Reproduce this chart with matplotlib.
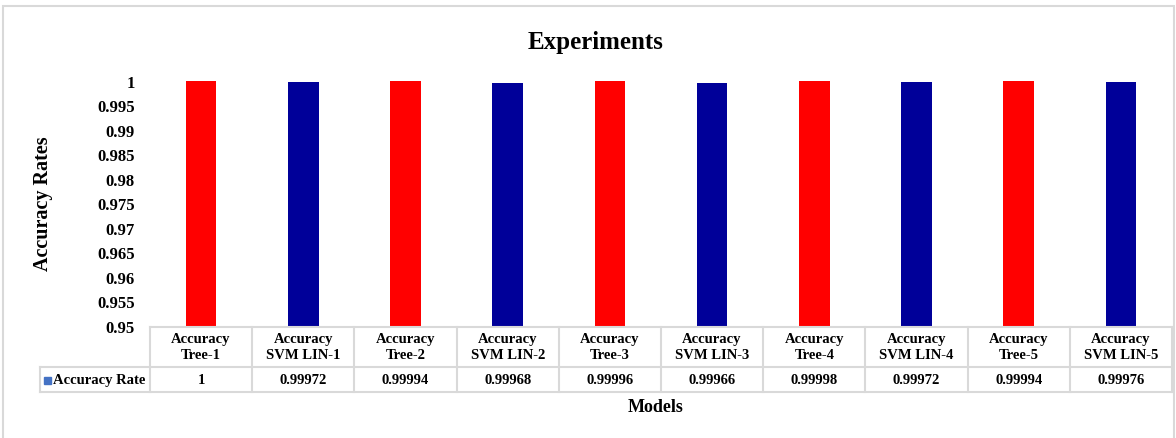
import numpy as np
import matplotlib.pyplot as plt
from matplotlib.patches import Rectangle
from matplotlib.lines import Line2D

models = ["Tree-1", "SVM LIN-1", "Tree-2", "SVM LIN-2", "Tree-3",
          "SVM LIN-3", "Tree-4", "SVM LIN-4", "Tree-5", "SVM LIN-5"]
accuracy = [1, 0.99972, 0.99994, 0.99968, 0.99996,
            0.99966, 0.99998, 0.99972, 0.99994, 0.99976]
value_text = ["1", "0.99972", "0.99994", "0.99968", "0.99996",
              "0.99966", "0.99998", "0.99972", "0.99994", "0.99976"]
bar_colors = ["#FF0000", "#000099"] * 5

plt.rcParams["font.family"] = ["Liberation Serif", "DejaVu Serif"]
plt.rcParams["font.weight"] = "bold"

W, H = 1176, 439
fig = plt.figure(figsize=(W / 100, H / 100), dpi=100)

def fx(x):
    return x / W

def fy(y):
    return 1 - y / H

# outer chart frame
fig.patches.append(Rectangle((fx(3), fy(446)), fx(1171), 446 / H - 7 / H,
                             transform=fig.transFigure, fill=False,
                             edgecolor="#D9D9D9", linewidth=1.5))

left, right, top, bottom = 150, 1172, 82, 327
ax = fig.add_axes([fx(left), fy(bottom), (right - left) / W, (bottom - top) / H])
x = np.arange(len(models))
ax.bar(x, accuracy, width=0.3, color=bar_colors)
ax.set_xlim(-0.5, len(models) - 0.5)
ax.set_ylim(0.95, 1.0)
ticks = np.round(np.arange(0.95, 1.0001, 0.005), 3)
ax.set_yticks(ticks)
ax.set_yticklabels(["%g" % t for t in ticks], fontsize=12, fontweight="bold")
ax.tick_params(axis="y", length=0, pad=11)
ax.set_xticks([])
for s in ax.spines.values():
    s.set_visible(False)

# data table under the bars
grid = dict(color="#D9D9D9", linewidth=1.5, transform=fig.transFigure)
col_w = (right - left) / len(models)
r0, r1, r2 = 328, 368, 393
fig.lines.append(Line2D([fx(left), fx(right)], [fy(r0), fy(r0)], **grid))
for yy in (r1, r2):
    fig.lines.append(Line2D([fx(40), fx(right)], [fy(yy), fy(yy)], **grid))
for i in range(len(models) + 1):
    xx = left + i * col_w
    fig.lines.append(Line2D([fx(xx), fx(xx)], [fy(r0), fy(r2)], **grid))
fig.lines.append(Line2D([fx(40), fx(40)], [fy(r1), fy(r2)], **grid))

for i, (m, v) in enumerate(zip(models, value_text)):
    cx = left + (i + 0.5) * col_w
    fig.text(fx(cx), fy((r0 + r1) / 2), "Accuracy\n" + m, ha="center", va="center",
             fontsize=10.5, fontweight="bold", linespacing=1.3)
    fig.text(fx(cx), fy((r1 + r2) / 2), v, ha="center", va="center",
             fontsize=10.5, fontweight="bold")

fig.patches.append(Rectangle((fx(44), fy(385)), 7 / W, 7 / H,
                             transform=fig.transFigure, color="#4472C4"))
fig.text(fx(53), fy((r1 + r2) / 2), "Accuracy Rate", ha="left", va="center",
         fontsize=10.5, fontweight="bold")

fig.text(fx(596), fy(42), "Experiments", ha="center", va="center",
         fontsize=18, fontweight="bold")
fig.text(fx(43), fy(204), "Accuracy Rates", ha="center", va="center",
         rotation=90, fontsize=14.5, fontweight="bold")
fig.text(fx(656), fy(408), "Models", ha="center", va="center",
         fontsize=13, fontweight="bold")

fig.savefig("out.png", dpi=100)
